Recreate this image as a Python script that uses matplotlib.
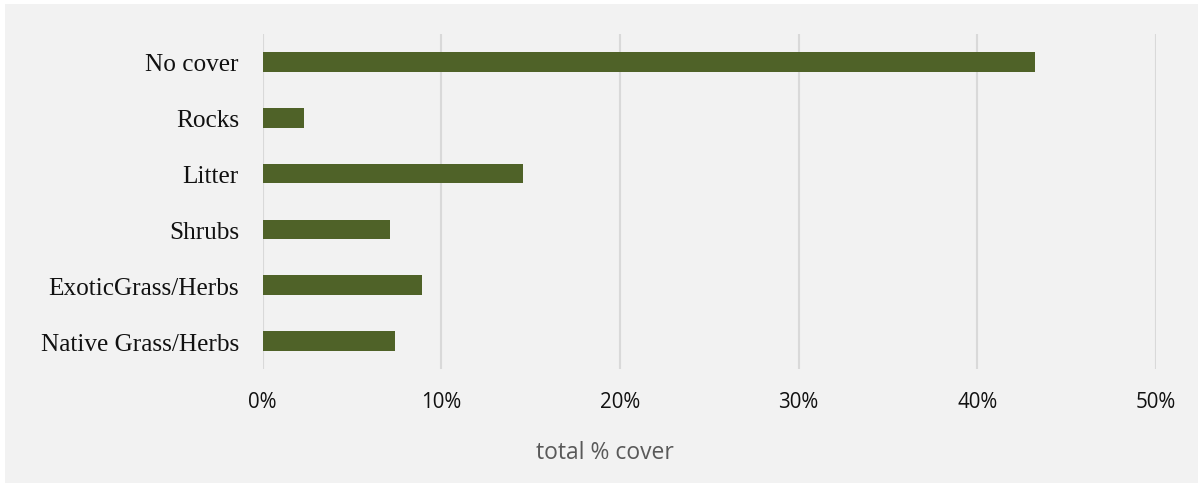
import matplotlib.pyplot as plt
from matplotlib.patches import Rectangle
from matplotlib.ticker import PercentFormatter

# data (percent)
categories = ["No cover", "Rocks", "Litter", "Shrubs", "ExoticGrass/Herbs", "Native Grass/Herbs"]
cover = [43.25, 2.3, 14.55, 7.13, 8.93, 7.41]
ticks = [0, 10, 20, 30, 40, 50]

bar_color = "#4F6228"
panel = "#F2F2F2"

fig = plt.figure(figsize=(12.03, 4.89), dpi=100, facecolor="white")
fig.add_artist(Rectangle((5 / 1203, 5 / 489), 1193 / 1203, 479 / 489,
                         transform=fig.transFigure, facecolor=panel,
                         edgecolor="none", zorder=-10))

ax = fig.add_axes([262.5 / 1203, 1 - 370 / 489, (1156 - 262.5) / 1203, 335 / 489])
ax.set_facecolor("none")

ypos = list(range(len(categories)))[::-1]
ax.barh(ypos, cover, height=0.35, color=bar_color, zorder=3)

ax.set_xlim(0, 50)
ax.set_ylim(-0.5, len(categories) - 0.5)
ax.set_xticks(ticks)
ax.xaxis.set_major_formatter(PercentFormatter(decimals=0))
ax.set_yticks(ypos)
ax.set_yticklabels(categories, fontfamily="Liberation Serif", fontsize=18.2, color="#111111")
for lab in ax.get_xticklabels():
    lab.set_fontfamily("Open Sans")
    lab.set_fontsize(14.8)
    lab.set_color("#111111")

ax.grid(axis="x", color="#D9D9D9", linewidth=1.5, zorder=0)
ax.tick_params(axis="both", length=0)
ax.tick_params(axis="y", pad=17)
ax.tick_params(axis="x", pad=16)
for s in ax.spines.values():
    s.set_visible(False)

fig.text(605 / 1203, 1 - 453 / 489, "total % cover", ha="center", va="center",
         fontfamily="Open Sans", fontsize=16.5, color="#595959")

plt.savefig("out.png", dpi=100, facecolor="white")
